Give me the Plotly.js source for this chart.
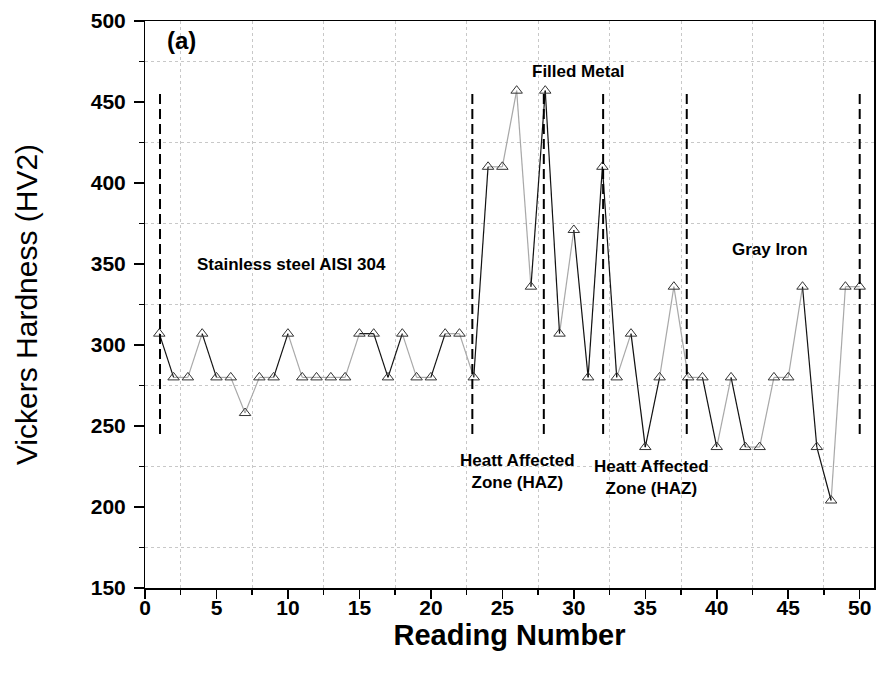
<!DOCTYPE html>
<html>
<head>
<meta charset="utf-8">
<script src="https://cdn.plot.ly/plotly-3.0.1.min.js"></script>
<style>html,body{margin:0;padding:0;background:#fff;}#chart{width:882px;height:676px;}</style>
</head>
<body>
<div id="chart"></div>
<script>
// Reading numbers and Vickers hardness values
var readings = [1,2,3,4,5,6,7,8,9,10,11,12,13,14,15,16,17,18,19,20,21,22,23,24,25,
                26,27,28,29,30,31,32,33,34,35,36,37,38,39,40,41,42,43,44,45,46,47,48,49,50];
var hardness = [307,280,280,307,280,280,258,280,280,307,280,280,280,280,307,307,280,307,280,280,
                307,307,280,410,410,457,336,457,307,371,280,410,280,307,237,280,336,280,280,237,
                280,237,237,280,280,336,237,204,336,336];
// Shade of each connecting segment (1 = dark, 0 = light grey), as seen in the figure
var segShade = [1,0,0,1,0,0,0,0,1,0,0,0,0,0,1,1,1,0,0,1,0,0,1,0,0,0,1,1,0,1,1,1,0,1,1,0,0,0,1,0,1,0,0,0,0,1,1,0,0];
// Zone boundary markers (reading number) and their vertical span
var boundaries = [1.05, 22.9, 27.9, 32.05, 37.9, 50];
var boundaryLow = 245, boundaryHigh = 455;
// Zone labels
var labelText = ['(a)', 'Stainless steel AISI 304', 'Filled Metal', 'Heatt Affected<br>Zone (HAZ)', 'Heatt Affected<br>Zone (HAZ)', 'Gray Iron'];
var labelX = [2.54, 10.25, 30.35, 26.05, 35.46, 43.7];
var labelY = [488, 349.6, 468.8, 222, 218.4, 358.8];

var darkX = [], darkY = [], lightX = [], lightY = [];
for (var i = 0; i < readings.length - 1; i++) {
  var tx = segShade[i] ? darkX : lightX, ty = segShade[i] ? darkY : lightY;
  tx.push(readings[i], readings[i+1], null);
  ty.push(hardness[i], hardness[i+1], null);
}

var traces = [
  // invisible trace so the base (grid/frame) subplot is drawn
  {x: [null], y: [null], xaxis: 'x', yaxis: 'y', mode: 'lines', hoverinfo: 'skip', showlegend: false},
  {x: lightX, y: lightY, xaxis: 'x2', yaxis: 'y2', mode: 'lines', line: {color: '#a8a8a8', width: 1.2}, hoverinfo: 'skip', showlegend: false},
  {x: darkX, y: darkY, xaxis: 'x2', yaxis: 'y2', mode: 'lines', line: {color: '#111111', width: 1.2}, hoverinfo: 'skip', showlegend: false},
  {x: readings, y: hardness, xaxis: 'x2', yaxis: 'y2', mode: 'markers',
   marker: {symbol: 'triangle-up-open', size: 10, color: '#333333', line: {width: 1, color: '#333333'}},
   showlegend: false}
];

var shapes = boundaries.map(function (b) {
  return {type: 'line', xref: 'x2', yref: 'y2', x0: b, x1: b, y0: boundaryLow, y1: boundaryHigh,
          line: {color: '#000', width: 2, dash: '10px,5px'}};
});

var annotations = labelText.map(function (t, k) {
  return {x: labelX[k], y: labelY[k], xref: 'x2', yref: 'y2', text: t, showarrow: false,
          align: 'center', xanchor: 'center', yanchor: 'middle',
          font: {family: 'Liberation Sans, Arial, sans-serif', size: k === 0 ? 24 : 17, color: '#000', weight: 'bold'}};
});

var font = 'Liberation Sans, Arial, sans-serif';
var xRange = [0, 51], yRange = [150, 500];
var layout = {
  width: 882, height: 676,
  margin: {l: 145, r: 8, t: 21, b: 88},
  paper_bgcolor: '#fff', plot_bgcolor: '#fff',
  showlegend: false,
  // base axes: minor ticks + dotted grid between the labelled ticks, and the frame
  xaxis: {
    range: xRange, tickmode: 'linear', tick0: 2.5, dtick: 5,
    ticks: 'outside', ticklen: 5, tickwidth: 1.5, tickcolor: '#000', showticklabels: false,
    showline: true, linecolor: '#000', linewidth: 1.5, mirror: true,
    showgrid: true, gridcolor: '#c8c8c8', griddash: 'dot', gridwidth: 1, zeroline: false
  },
  yaxis: {
    range: yRange, tickmode: 'linear', tick0: 175, dtick: 50,
    ticks: 'outside', ticklen: 5, tickwidth: 1.5, tickcolor: '#000', showticklabels: false,
    showline: true, linecolor: '#000', linewidth: 1.5, mirror: true,
    showgrid: true, gridcolor: '#c8c8c8', griddash: 'dot', gridwidth: 1, zeroline: false
  },
  // overlay axes: labelled major ticks, titles and the data
  xaxis2: {
    overlaying: 'x', anchor: 'y2', side: 'bottom',
    range: xRange, tickmode: 'linear', tick0: 0, dtick: 5,
    ticks: 'outside', ticklen: 10, tickwidth: 1.5, tickcolor: '#000',
    showline: false, showgrid: false, zeroline: false, ticklabelstandoff: -9,
    tickfont: {family: font, size: 21, color: '#000', weight: 'bold'},
    title: {text: 'Reading Number', font: {family: font, size: 29, color: '#000', weight: 'bold'}, standoff: 0}
  },
  yaxis2: {
    overlaying: 'y', anchor: 'x2', side: 'left',
    range: yRange, tickmode: 'linear', tick0: 150, dtick: 50,
    ticks: 'outside', ticklen: 10, tickwidth: 1.5, tickcolor: '#000',
    showline: false, showgrid: false, zeroline: false, ticklabelstandoff: 4,
    tickfont: {family: font, size: 21, color: '#000', weight: 'bold'},
    title: {text: 'Vickers Hardness (HV2)', font: {family: font, size: 30, color: '#000'}, standoff: 44}
  },
  shapes: shapes,
  annotations: annotations
};

Plotly.newPlot('chart', traces, layout, {displayModeBar: false, staticPlot: true});
</script>
</body>
</html>
